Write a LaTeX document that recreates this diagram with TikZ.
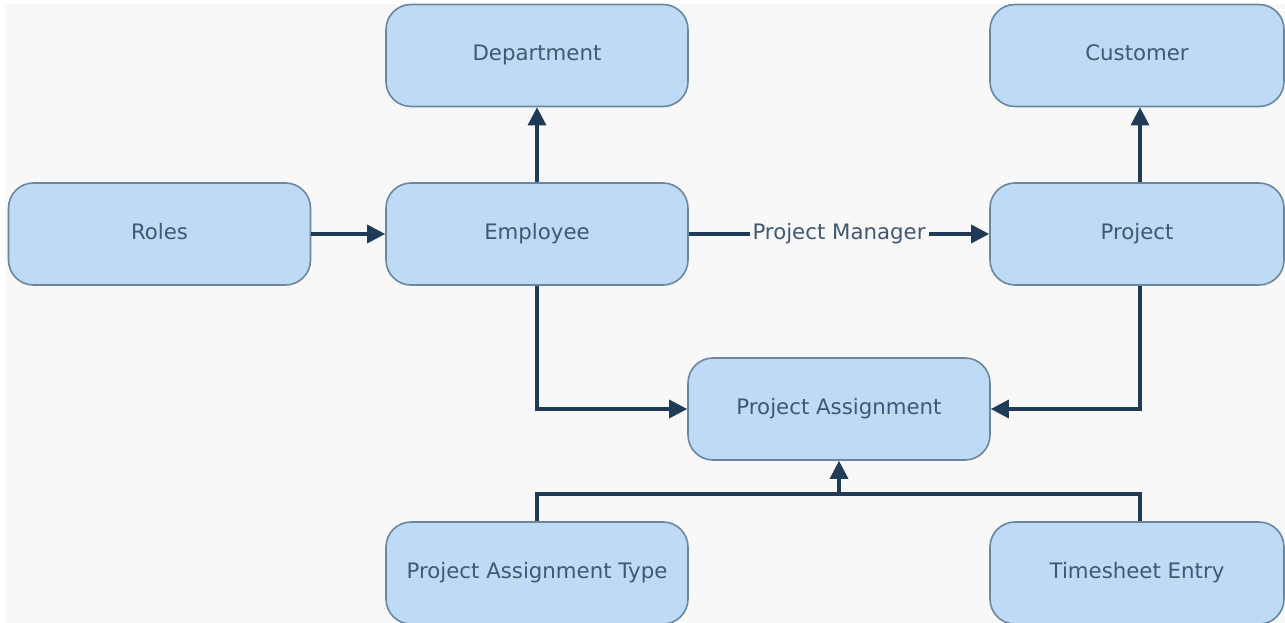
\documentclass[tikz,border=0pt]{standalone}
\usepackage{fontspec}
\setmainfont{DejaVu Sans}
\usetikzlibrary{arrows.meta}
\definecolor{bgc}{HTML}{F8F8F8}
\definecolor{boxfill}{HTML}{BFDAF5}
\definecolor{boxline}{HTML}{6B86A0}
\definecolor{connc}{HTML}{1F3B57}
\definecolor{txtc}{HTML}{405870}
\tikzset{
  entity/.style={draw=boxline, fill=boxfill, rounded corners=25pt, line width=1.6pt,
    minimum width=302pt, minimum height=102pt, inner sep=0pt, text=txtc,
    text height=15.5pt, text depth=4.5pt,
    font=\fontsize{21.3}{25}\selectfont},
  narrow/.style={minimum width=294pt},
  conn/.style={draw=connc, line width=3.2pt, -{Triangle[length=18pt,width=18pt]}},
  plain/.style={draw=connc, line width=3.2pt},
  lbl/.style={fill=bgc, text=txtc, inner sep=3pt, text height=15.5pt, text depth=4.5pt,
    font=\fontsize{21.3}{25}\selectfont}
}
\begin{document}
\begin{tikzpicture}[x=1pt,y=-1pt]
\useasboundingbox (0,0) rectangle (1285,623);
\fill[white] (0,0) rectangle (1285,623);
\fill[bgc] (5,4) rectangle (1285,623);

\node[entity] (Department) at (537,55.5) {Department};
\node[entity,narrow] (Customer) at (1137,55.5) {Customer};
\node[entity] (Roles) at (159.5,234) {Roles};
\node[entity] (Employee) at (537,234) {Employee};
\node[entity,narrow] (Project) at (1137,234) {Project};
\node[entity] (PA) at (839,409) {Project Assignment};
\node[entity] (PAT) at (537,573) {Project Assignment Type};
\node[entity,narrow] (TE) at (1137,573) {Timesheet Entry};

\coordinate (J) at (839,494);

\draw[conn] (Employee) -- (Department);
\draw[conn] ([xshift=3pt]Project.north) -- ([xshift=3pt]Customer.south);
\draw[conn] (Roles) -- (Employee);
\draw[conn] (Employee) -- node[lbl] {Project Manager} (Project);
\draw[conn] (Employee.south) |- (PA.west);
\draw[conn] ([xshift=3pt]Project.south) |- (PA.east);
\draw[plain] (PAT.north) |- (J) -| ([xshift=3pt]TE.north);
\draw[conn] (J) -- (PA.south);
\end{tikzpicture}
\end{document}
